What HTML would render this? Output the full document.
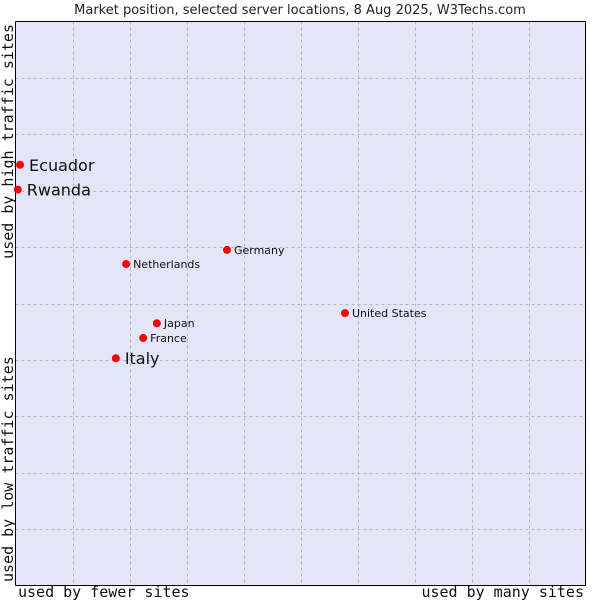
<!DOCTYPE html>
<html><head><meta charset="utf-8"><style>
html,body{margin:0;padding:0;background:#fff;}
svg{display:block;font-family:"DejaVu Sans","Liberation Sans",sans-serif;}
</style></head><body>
<svg id="chart" width="600" height="600">
<text x="300" y="14" text-anchor="middle" font-size="13" fill="#222">Market position, selected server locations, 8 Aug 2025, W3Techs.com</text>
<rect x="15.5" y="21.5" width="570" height="564" fill="#e4e6f8" stroke="none"/>
<g id="grid"></g>
<line x1="15.5" y1="21.5" x2="585.5" y2="21.5" stroke="#000"/>
<line x1="15.5" y1="21.5" x2="15.5" y2="585.5" stroke="#000"/>
<line x1="15.5" y1="585.5" x2="585.5" y2="585.5" stroke="#000"/>
<line x1="585.5" y1="21.5" x2="585.5" y2="585.5" stroke="#000"/>
<g id="points"></g>
<text x="18" y="597" font-family="DejaVu Sans Mono,Liberation Mono,monospace" font-size="15" fill="#111">used by fewer sites</text>
<text x="584" y="597" text-anchor="end" font-family="DejaVu Sans Mono,Liberation Mono,monospace" font-size="15" fill="#111">used by many sites</text>
<text transform="translate(13,582) rotate(-90)" font-family="DejaVu Sans Mono,Liberation Mono,monospace" font-size="15" fill="#111">used by low traffic sites</text>
<text transform="translate(13,24) rotate(-90)" text-anchor="end" font-family="DejaVu Sans Mono,Liberation Mono,monospace" font-size="15" fill="#111">used by high traffic sites</text>
</svg>
<script>
const names = ["Ecuador","Rwanda","Germany","Netherlands","United States","Japan","France","Italy"];
const xVals = [0.8,0.4,37.1,19.4,57.8,24.8,22.4,17.6];
const yVals = [74.6,70.2,59.5,57.0,48.3,46.5,43.9,40.3];
const big = [true,true,false,false,false,false,false,true];
const NS="http://www.w3.org/2000/svg";
const X0=15.5,X1=585.5,Y0=585.5,Y1=21.5;
const sx=v=>X0+(X1-X0)*v/100, sy=v=>Y0-(Y0-Y1)*v/100;
const grid=document.getElementById('grid');
for(let i=1;i<10;i++){
  const v=document.createElementNS(NS,'line');
  
  
  const x=Math.round(sx(i*10))+0.5;
  v.setAttribute('x1',x);v.setAttribute('x2',x);v.setAttribute('y1',Y1);v.setAttribute('y2',Y0);
  v.setAttribute('stroke','#b4b4b4');v.setAttribute('stroke-dasharray','3,3');
  grid.appendChild(v);
  const h=document.createElementNS(NS,'line');
  
  
  const y=Math.round(sy(i*10))+0.5;
  h.setAttribute('x1',X0);h.setAttribute('x2',X1);h.setAttribute('y1',y);h.setAttribute('y2',y);
  h.setAttribute('stroke','#b4b4b4');h.setAttribute('stroke-dasharray','3,3');
  grid.appendChild(h);
}
const pts=document.getElementById('points');
names.forEach((n,i)=>{
  const x=sx(xVals[i]),y=sy(yVals[i]);
  const c=document.createElementNS(NS,'circle');
  
  
  c.setAttribute('cx',x);c.setAttribute('cy',y);c.setAttribute('r',4);c.setAttribute('fill','#f00');
  pts.appendChild(c);
  const t=document.createElementNS(NS,'text');
  
  
  t.setAttribute('x',x+(big[i]?9:7));t.setAttribute('y',y+(big[i]?6:4));
  t.setAttribute('font-size',big[i]?16:11);t.setAttribute('fill','#111');
  t.textContent=n;
  pts.appendChild(t);
});
</script>
</body></html>
